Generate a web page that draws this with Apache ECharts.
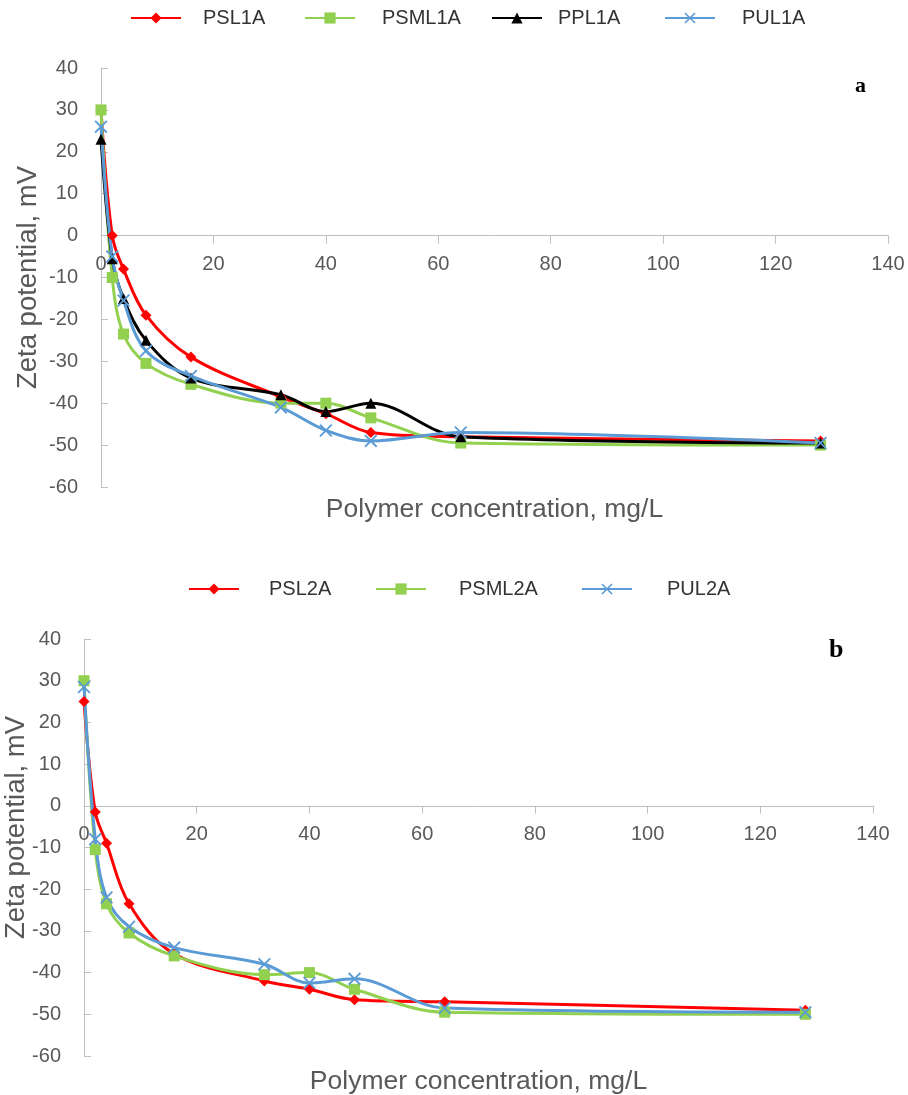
<!DOCTYPE html>
<html>
<head>
<meta charset="utf-8">
<script src="https://cdn.jsdelivr.net/npm/echarts@6/dist/echarts.min.js"></script>
<style>
html,body{margin:0;padding:0;background:#fff;}
#c{width:908px;height:1095px;}
</style>
</head>
<body>
<div id="c"></div>
<script>
// Polymer concentration (mg/L)
const conc = [0, 2, 4, 8, 16, 32, 40, 48, 64, 128];
// Panel a
const psl1a  = [30, 0, -8, -19, -29, -38.5, -42.5, -47, -48, -49];
const psml1a = [30, -10, -23.5, -30.5, -35.5, -40, -40, -43.5, -49.5, -50];
const ppl1a  = [23, -5.5, -15, -25, -34, -38, -42, -40, -48, -49.5];
const pul1a  = [26, -5, -15.5, -27.5, -33.5, -41, -46.5, -49, -47, -49.5];
// Panel b
const psl2a  = [25, -1.5, -9, -23.5, -35.5, -42, -44, -46.5, -47, -49];
const psml2a = [30, -10.5, -23.5, -30.5, -36, -40.5, -40, -44, -49.5, -50];
const pul2a  = [28.5, -8, -22, -29, -34, -38, -42.5, -41.5, -48.5, -49.5];

const xTicks = {min: 0, max: 140, interval: 20};
const yTicks = {min: -60, max: 40, interval: 10};
const xTitle = 'Polymer concentration, mg/L';
const yTitle = 'Zeta potential, mV';

const FONT = '"Liberation Sans", Arial, sans-serif';
const GRAY = '#595959';
const AXIS = '#BFBFBF';
const XPATH = 'path://M1,0 L5,4 L9,0 L10,1 L6,5 L10,9 L9,10 L5,6 L1,10 L0,9 L4,5 L0,1 Z';

const styles = {
  red:   {color: '#FF0000', symbol: 'diamond', symbolSize: 11},
  green: {color: '#92D050', symbol: 'rect', symbolSize: 11},
  black: {color: '#000000', symbol: 'triangle', symbolSize: 11},
  blue:  {color: '#5B9BD5', symbol: XPATH, symbolSize: 13}
};

const grids = [
  {left: 101, top: 68, width: 787, height: 419},
  {left: 84, top: 639, width: 789, height: 417}
];

function pts(arr){ return conc.map((x, i) => [x, arr[i]]); }

function mkSeries(name, arr, st, idx){
  return {
    name: name, type: 'line', xAxisIndex: idx, yAxisIndex: idx,
    data: pts(arr), smooth: 0.35,
    symbol: st.symbol, symbolSize: st.symbolSize,
    lineStyle: {color: st.color, width: 3},
    itemStyle: {color: st.color},
    emphasis: {disabled: true}, animation: false
  };
}

function xAx(idx, nameGap){
  const g = grids[idx];
  // shift the whole axis from the grid bottom up to the value 0 line
  const zeroFrac = (0 - yTicks.min) / (yTicks.max - yTicks.min);
  return {
    type: 'value', gridIndex: idx, min: xTicks.min, max: xTicks.max, interval: xTicks.interval,
    position: 'bottom', offset: -g.height * zeroFrac,
    name: xTitle, nameLocation: 'middle', nameGap: nameGap, nameMoveOverlap: false,
    nameTextStyle: {color: GRAY, fontSize: 26.5, fontFamily: FONT, verticalAlign: 'top'},
    axisLine: {onZero: false, lineStyle: {color: AXIS, width: 1}},
    axisTick: {show: true, length: 8, lineStyle: {color: AXIS}},
    axisLabel: {color: GRAY, fontSize: 20, fontFamily: FONT, margin: 19},
    splitLine: {show: false}
  };
}
function yAx(idx, nameGap, pad){
  return {
    type: 'value', gridIndex: idx, min: yTicks.min, max: yTicks.max, interval: yTicks.interval,
    name: yTitle, nameLocation: 'middle', nameGap: nameGap, nameMoveOverlap: false,
    nameTextStyle: {color: GRAY, fontSize: 27.5, fontFamily: FONT, padding: pad},
    axisLine: {show: true, onZero: false, lineStyle: {color: AXIS, width: 1}},
    axisTick: {show: true, inside: true, length: 7, lineStyle: {color: AXIS}},
    axisLabel: {color: GRAY, fontSize: 20, fontFamily: FONT, margin: 23},
    splitLine: {show: false}
  };
}

function leg(name, left, top, pad){
  return {
    data: [name], left: left, top: top, itemWidth: 50, itemHeight: 14,
    padding: 0, selectedMode: false,
    textStyle: {color: '#333', fontSize: 20, fontFamily: FONT, padding: [0, 0, 0, pad]}
  };
}

const chart = echarts.init(document.getElementById('c'), null, {renderer: 'canvas'});
chart.setOption({
  backgroundColor: '#fff',
  animation: false,
  title: [
    {text: 'a', left: 850, top: 70, textStyle: {fontFamily: '"Liberation Serif", "Times New Roman", serif', fontWeight: 'bold', fontSize: 22, color: '#000'}},
    {text: 'b', left: 824, top: 632, textStyle: {fontFamily: '"Liberation Serif", "Times New Roman", serif', fontWeight: 'bold', fontSize: 26, color: '#000'}}
  ],
  legend: [
    leg('PSL1A', 130, 8, 17),
    leg('PSML1A', 304, 8, 22),
    leg('PPL1A', 491, 8, 11),
    leg('PUL1A', 664, 8, 22),
    leg('PSL2A', 188, 579, 25),
    leg('PSML2A', 375, 579, 28),
    leg('PUL2A', 581, 579, 30)
  ],
  grid: grids.map(g => Object.assign({outerBoundsMode: 'none', containLabel: false}, g)),
  xAxis: [xAx(0, 261), xAx(1, 262)],
  yAxis: [yAx(0, 59, [0, 0, 0, 0]), yAx(1, 54, [0, 0, 0, 40])],
  series: [
    mkSeries('PSL1A', psl1a, styles.red, 0),
    mkSeries('PSML1A', psml1a, styles.green, 0),
    mkSeries('PPL1A', ppl1a, styles.black, 0),
    mkSeries('PUL1A', pul1a, styles.blue, 0),
    mkSeries('PSL2A', psl2a, styles.red, 1),
    mkSeries('PSML2A', psml2a, styles.green, 1),
    mkSeries('PUL2A', pul2a, styles.blue, 1)
  ]
});
</script>
</body>
</html>
